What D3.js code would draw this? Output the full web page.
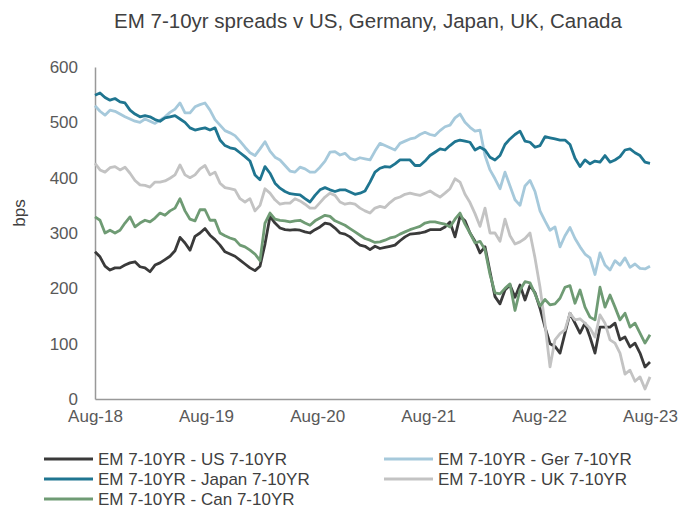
<!DOCTYPE html>
<html><head><meta charset="utf-8">
<script src="https://cdn.jsdelivr.net/npm/d3@7"></script>
<style>body{margin:0;background:#fff}svg{display:block}text{font-family:"Liberation Sans",Arial,sans-serif}</style>
</head><body><div id="chart"></div>
<script>
const title = "EM 7-10yr spreads v US, Germany, Japan, UK, Canada";
const startDate = new Date(2018, 7, 1), endDate = new Date(2023, 7, 1);
const xTickLabels = ["Aug-18","Aug-19","Aug-20","Aug-21","Aug-22","Aug-23"];
const yTicks = [0,100,200,300,400,500,600];
const seriesNames = ["EM 7-10YR - US 7-10YR","EM 7-10YR - Ger 7-10YR","EM 7-10YR - Japan 7-10YR","EM 7-10YR - UK 7-10YR","EM 7-10YR - Can 7-10YR"];
const seriesColors = ["#3a3a3a","#a6c9db","#1f7590","#c3c3c3","#6f9b74"];

const us = [266,257,240,233,237,237,242,246,248,239,
237,230,242,246,252,258,268,292,282,269,
294,300,308,296,288,278,266,262,258,251,
244,237,232,240,280,330,318,309,306,305,
306,305,302,300,306,311,318,316,309,300,
298,293,285,278,276,270,276,272,274,276,
278,286,293,298,299,300,302,306,306,306,
311,320,293,330,322,300,285,264,275,230,
185,172,197,206,184,206,179,205,192,164,
130,100,95,83,119,155,137,119,137,112,
83,130,130,130,137,107,112,94,101,83,
58,67];
const ger = [530,520,513,522,520,515,510,506,502,500,
506,502,498,504,510,518,524,535,517,517,
528,532,535,522,505,495,485,481,476,466,
455,445,440,452,465,448,437,432,422,412,
410,419,416,410,410,419,430,446,447,441,
444,435,432,436,434,432,448,462,458,454,
450,462,466,470,472,478,482,478,476,485,
492,495,508,515,500,491,484,486,440,414,
398,380,410,385,360,350,385,395,375,340,
322,305,311,275,295,310,290,275,262,255,
225,264,242,233,250,242,255,238,244,236,
235,240];
const japan = [549,553,545,540,543,537,535,522,515,510,
512,510,505,502,508,510,512,506,500,490,
486,488,490,486,490,468,458,454,452,445,
438,430,405,396,420,408,390,381,375,371,
370,369,362,356,368,378,382,378,375,378,
378,374,370,372,376,392,410,417,420,419,
425,432,432,432,422,422,430,440,446,452,
450,458,465,468,466,464,450,455,450,437,
432,440,460,470,478,484,466,464,455,458,
474,472,470,468,468,460,435,420,432,425,
430,428,440,428,432,438,450,452,445,440,
428,426];
const uk = [426,414,410,418,420,414,419,408,395,387,
386,383,392,392,394,399,405,423,405,400,
405,416,422,405,410,390,382,380,378,362,
356,362,340,350,380,372,360,352,354,354,
362,358,352,345,345,355,365,372,368,356,
352,354,352,345,340,336,345,348,346,355,
362,365,370,372,370,368,372,376,370,365,
372,380,398,392,370,355,335,312,345,300,
300,285,325,295,280,284,290,300,255,202,
135,58,107,118,125,155,143,145,137,128,
112,152,137,107,101,83,45,52,32,40,
18,40];
const can = [329,323,300,305,300,305,318,329,311,318,
323,320,327,336,332,340,345,362,340,325,
322,342,342,323,323,300,295,291,288,278,
275,269,262,250,318,336,325,323,322,320,
322,323,318,314,322,327,332,330,322,318,
314,308,302,296,290,287,283,284,287,291,
293,298,302,306,309,312,318,320,320,318,
316,311,325,336,316,300,282,285,270,225,
192,190,200,208,160,197,212,210,190,168,
180,170,172,182,202,205,173,197,166,148,
143,202,166,188,166,143,155,130,137,119,
101,116];

const allSeries = [us, ger, japan, uk, can];

const W = 683, H = 508;
const svg = d3.select("#chart").append("svg").attr("width", W).attr("height", H);
const x = d3.scaleTime().domain([startDate, endDate]).range([95, 650]);
const y = d3.scaleLinear().domain([0, 600]).range([399, 67]);

svg.append("text").attr("x", 368).attr("y", 28).attr("text-anchor", "middle")
  .attr("font-size", 20.5).attr("fill", "#404040").text(title);

// y axis
const yAxis = d3.axisLeft(y).tickValues(yTicks).tickSize(0).tickPadding(17);
const gy = svg.append("g").attr("transform", "translate(95,0)").call(yAxis);
gy.select(".domain").attr("stroke", "#999").attr("stroke-width", 1.5);
gy.selectAll("text").attr("font-size", 17).attr("fill", "#595959").attr("font-family", '"Liberation Sans",Arial,sans-serif');

// x axis
const xTicks = xTickLabels.map((_, i) => new Date(2018 + i, 7, 1));
const xAxis = d3.axisBottom(x).tickValues(xTicks).tickSize(0).tickPadding(11)
  .tickFormat((d, i) => xTickLabels[i]);
const gx = svg.append("g").attr("transform", "translate(0,399)").call(xAxis);
gx.select(".domain").attr("stroke", "#999").attr("stroke-width", 1.5);
gx.selectAll("text").attr("font-size", 17).attr("fill", "#595959").attr("font-family", '"Liberation Sans",Arial,sans-serif');

svg.append("text").attr("transform", "translate(25,213) rotate(-90)").attr("text-anchor", "middle")
  .attr("font-size", 17).attr("fill", "#404040").text("bps");

// lines
const line = d3.line().x(d => x(d.date)).y(d => y(d.v));
allSeries.forEach((vals, k) => {
  const pts = vals.map((v, i) => ({date: new Date(+startDate + i * (endDate - startDate) / (vals.length - 1)), v}));
  svg.append("path").datum(pts).attr("fill", "none").attr("stroke", seriesColors[k])
    .attr("stroke-width", 2.8).attr("stroke-linejoin", "round").attr("d", line);
});

// legend
const legPos = [[44, 459], [384, 459], [44, 479], [384, 479], [44, 499]];
seriesNames.forEach((name, k) => {
  const [lx, ly] = legPos[k];
  const g = svg.append("g");
  g.append("line").attr("x1", lx).attr("x2", lx + 49).attr("y1", ly).attr("y2", ly)
    .attr("stroke", seriesColors[k]).attr("stroke-width", 2.8);
  g.append("text").attr("x", lx + 54).attr("y", ly + 6).attr("font-size", 17)
    .attr("fill", "#404040").text(name);
});
</script></body></html>
